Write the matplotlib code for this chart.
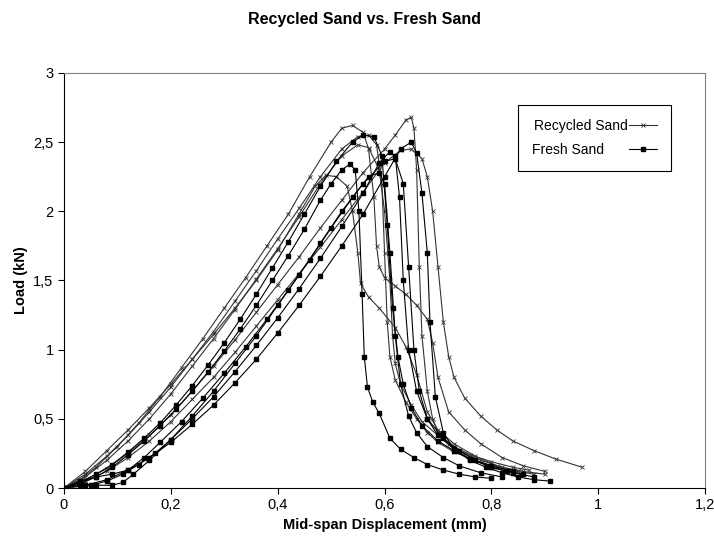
import numpy as np
import matplotlib.pyplot as plt
from matplotlib.ticker import FuncFormatter

# recycled sand specimens (displacement mm, load kN)
r1_x = [0, 0.03, 0.06, 0.1, 0.14, 0.18, 0.22, 0.26, 0.3, 0.34, 0.38, 0.42, 0.46, 0.5, 0.52, 0.54, 0.56, 0.57, 0.58, 0.585, 0.59, 0.6, 0.62, 0.64, 0.66, 0.68, 0.69, 0.7, 0.72, 0.75, 0.78, 0.82, 0.86, 0.9]
r1_y = [0, 0.06, 0.15, 0.3, 0.47, 0.66, 0.87, 1.08, 1.3, 1.52, 1.75, 1.98, 2.25, 2.5, 2.6, 2.62, 2.57, 2.45, 2.1, 1.75, 1.6, 1.52, 1.46, 1.4, 1.32, 1.22, 1.05, 0.8, 0.55, 0.42, 0.32, 0.22, 0.16, 0.12]
r2_x = [0, 0.04, 0.08, 0.12, 0.16, 0.2, 0.24, 0.28, 0.32, 0.36, 0.4, 0.44, 0.48, 0.52, 0.55, 0.57, 0.585, 0.595, 0.6, 0.605, 0.61, 0.62, 0.64, 0.66, 0.68, 0.7, 0.73, 0.77, 0.81, 0.85, 0.88]
r2_y = [0, 0.1, 0.23, 0.38, 0.55, 0.73, 0.93, 1.13, 1.35, 1.57, 1.8, 2.02, 2.25, 2.45, 2.54, 2.55, 2.48, 2.2, 1.7, 1.2, 0.95, 0.78, 0.62, 0.5, 0.4, 0.33, 0.26, 0.2, 0.15, 0.12, 0.1]
r3_x = [0, 0.04, 0.08, 0.12, 0.16, 0.2, 0.24, 0.28, 0.32, 0.36, 0.4, 0.44, 0.48, 0.52, 0.56, 0.6, 0.62, 0.64, 0.65, 0.655, 0.66, 0.665, 0.67, 0.68, 0.69, 0.7, 0.72, 0.75, 0.78, 0.82, 0.86, 0.9]
r3_y = [0, 0.06, 0.14, 0.25, 0.38, 0.53, 0.7, 0.88, 1.07, 1.27, 1.47, 1.67, 1.88, 2.08, 2.28, 2.45, 2.55, 2.66, 2.68, 2.6, 2.3, 1.6, 1.1, 0.7, 0.5, 0.4, 0.32, 0.25, 0.2, 0.15, 0.12, 0.1]
r4_x = [0, 0.04, 0.08, 0.12, 0.16, 0.2, 0.24, 0.28, 0.32, 0.36, 0.4, 0.44, 0.48, 0.52, 0.56, 0.6, 0.63, 0.65, 0.67, 0.68, 0.69, 0.7, 0.71, 0.72, 0.73, 0.75, 0.78, 0.81, 0.84, 0.88, 0.92, 0.97]
r4_y = [0, 0.05, 0.12, 0.22, 0.34, 0.48, 0.64, 0.8, 0.98, 1.17, 1.36, 1.55, 1.74, 1.94, 2.14, 2.35, 2.44, 2.45, 2.38, 2.25, 2.0, 1.6, 1.2, 0.95, 0.8, 0.65, 0.52, 0.42, 0.34, 0.27, 0.21, 0.15]
r5_x = [0, 0.04, 0.08, 0.12, 0.16, 0.2, 0.24, 0.28, 0.32, 0.36, 0.4, 0.44, 0.47, 0.49, 0.51, 0.53, 0.54, 0.55, 0.555, 0.57, 0.59, 0.62, 0.64, 0.66, 0.68, 0.7, 0.73, 0.77, 0.81, 0.85]
r5_y = [0, 0.12, 0.27, 0.42, 0.58, 0.75, 0.93, 1.11, 1.3, 1.5, 1.72, 1.98, 2.18, 2.26, 2.25, 2.18, 2.0, 1.7, 1.48, 1.38, 1.3, 1.16, 1.02, 0.82, 0.55, 0.42, 0.32, 0.23, 0.16, 0.12]
r6_x = [0, 0.04, 0.08, 0.12, 0.16, 0.2, 0.24, 0.28, 0.32, 0.36, 0.4, 0.44, 0.48, 0.52, 0.55, 0.57, 0.59, 0.6, 0.61, 0.615, 0.62, 0.63, 0.65, 0.67, 0.7, 0.73, 0.76, 0.8, 0.84, 0.87]
r6_y = [0, 0.08, 0.2, 0.34, 0.5, 0.68, 0.88, 1.08, 1.29, 1.51, 1.73, 1.96, 2.2, 2.4, 2.48, 2.46, 2.3, 2.0, 1.5, 1.1, 0.9, 0.75, 0.6, 0.48, 0.38, 0.3, 0.24, 0.19, 0.15, 0.13]

# fresh sand specimens
f1_x = [0, 0.03, 0.06, 0.09, 0.12, 0.15, 0.18, 0.21, 0.24, 0.27, 0.3, 0.33, 0.36, 0.39, 0.42, 0.45, 0.48, 0.51, 0.54, 0.56, 0.58, 0.595, 0.605, 0.615, 0.625, 0.635, 0.65, 0.67, 0.7, 0.73, 0.76, 0.8, 0.84]
f1_y = [0, 0.04, 0.1, 0.17, 0.26, 0.36, 0.47, 0.6, 0.74, 0.89, 1.05, 1.22, 1.4, 1.59, 1.78, 1.98, 2.18, 2.36, 2.5, 2.55, 2.54, 2.4, 1.9, 1.3, 0.95, 0.75, 0.58, 0.45, 0.34, 0.27, 0.21, 0.16, 0.12]
f2_x = [0, 0.04, 0.08, 0.12, 0.16, 0.2, 0.24, 0.28, 0.32, 0.36, 0.4, 0.44, 0.48, 0.52, 0.56, 0.6, 0.63, 0.65, 0.66, 0.67, 0.68, 0.685, 0.695, 0.71, 0.73, 0.76, 0.79, 0.82, 0.85, 0.88, 0.91]
f2_y = [0, 0.02, 0.06, 0.13, 0.22, 0.33, 0.46, 0.6, 0.76, 0.93, 1.12, 1.32, 1.53, 1.75, 1.98, 2.25, 2.45, 2.5, 2.42, 2.13, 1.7, 1.2, 0.66, 0.4, 0.28, 0.2, 0.15, 0.11, 0.08, 0.06, 0.05]
f3_x = [0, 0.03, 0.06, 0.09, 0.12, 0.15, 0.18, 0.21, 0.24, 0.27, 0.3, 0.33, 0.36, 0.39, 0.42, 0.45, 0.48, 0.5, 0.52, 0.535, 0.545, 0.552, 0.558, 0.562, 0.568, 0.578, 0.59, 0.61, 0.63, 0.655, 0.68, 0.71, 0.74, 0.77, 0.8]
f3_y = [0, 0.03, 0.08, 0.15, 0.24, 0.34, 0.45, 0.57, 0.7, 0.84, 0.99, 1.15, 1.32, 1.5, 1.68, 1.87, 2.08, 2.2, 2.3, 2.34, 2.3, 2.0, 1.4, 0.95, 0.73, 0.62, 0.54, 0.36, 0.28, 0.22, 0.17, 0.13, 0.1, 0.08, 0.07]
f4_x = [0, 0.05, 0.08, 0.11, 0.14, 0.17, 0.2, 0.24, 0.28, 0.32, 0.36, 0.4, 0.44, 0.48, 0.52, 0.56, 0.59, 0.61, 0.62, 0.628, 0.635, 0.645, 0.66, 0.68, 0.71, 0.74, 0.77, 0.8, 0.83, 0.86]
f4_y = [0, 0.02, 0.05, 0.1, 0.17, 0.25, 0.35, 0.5, 0.66, 0.84, 1.03, 1.23, 1.44, 1.66, 1.89, 2.13, 2.35, 2.43, 2.4, 2.1, 1.5, 1.0, 0.7, 0.5, 0.36, 0.27, 0.2, 0.15, 0.12, 0.1]
f5_x = [0, 0.03, 0.06, 0.09, 0.11, 0.13, 0.16, 0.2, 0.24, 0.28, 0.32, 0.36, 0.4, 0.44, 0.48, 0.52, 0.56, 0.6, 0.62, 0.635, 0.645, 0.655, 0.665, 0.68, 0.7, 0.73, 0.76, 0.8, 0.84, 0.88]
f5_y = [0, 0.02, 0.02, 0.02, 0.04, 0.1, 0.2, 0.35, 0.52, 0.7, 0.9, 1.1, 1.32, 1.54, 1.77, 2.0, 2.2, 2.36, 2.38, 2.2, 1.6, 1.0, 0.7, 0.5, 0.38, 0.28, 0.21, 0.15, 0.11, 0.08]
f6_x = [0, 0.03, 0.06, 0.09, 0.12, 0.15, 0.18, 0.22, 0.26, 0.3, 0.34, 0.38, 0.42, 0.46, 0.5, 0.54, 0.57, 0.59, 0.6, 0.61, 0.62, 0.63, 0.645, 0.66, 0.68, 0.71, 0.74, 0.78, 0.82]
f6_y = [0, 0.05, 0.08, 0.1, 0.13, 0.22, 0.33, 0.48, 0.65, 0.83, 1.02, 1.22, 1.43, 1.65, 1.88, 2.1, 2.25, 2.28, 2.2, 1.7, 1.1, 0.75, 0.52, 0.4, 0.3, 0.22, 0.16, 0.11, 0.08]

recycled = [(r1_x, r1_y), (r2_x, r2_y), (r3_x, r3_y), (r4_x, r4_y), (r5_x, r5_y), (r6_x, r6_y)]
fresh = [(f1_x, f1_y), (f2_x, f2_y), (f3_x, f3_y), (f4_x, f4_y), (f5_x, f5_y), (f6_x, f6_y)]

plt.rcParams['font.family'] = ['Liberation Sans', 'DejaVu Sans']

fig = plt.figure(figsize=(7.14, 5.58), dpi=100)
ax = fig.add_axes([0.0896, 0.1254, 0.898, 0.744])

for i, (x, y) in enumerate(recycled):
    ax.plot(x, y, color='#333333', linewidth=0.8, marker='x', markersize=2.3,
            markeredgewidth=0.6, label='Recycled Sand' if i == 0 else None)
for i, (x, y) in enumerate(fresh):
    ax.plot(x, y, color='black', linewidth=0.8, marker='s', markersize=2.5,
            label='Fresh Sand      ' if i == 0 else None)

ax.set_xlim(0, 1.2)
ax.set_ylim(0, 3)
ax.set_xticks(np.arange(0, 1.21, 0.2))
ax.set_yticks(np.arange(0, 3.01, 0.5))
fmt = FuncFormatter(lambda v, p: ('%g' % round(v, 2)).replace('.', ','))
ax.xaxis.set_major_formatter(fmt)
ax.yaxis.set_major_formatter(fmt)
ax.tick_params(labelsize=10.5, length=4, width=0.8, direction='out')

ax.spines['top'].set_color('#808080')
ax.spines['right'].set_color('#808080')

ax.set_xlabel('Mid-span Displacement (mm)', fontsize=10.5, fontweight='bold')
ax.set_ylabel('Load (kN)', fontsize=10.5, fontweight='bold')
fig.text(0.51, 0.965, 'Recycled Sand vs. Fresh Sand', ha='center', va='center',
         fontsize=11.5, fontweight='bold')

leg = ax.legend(loc='upper left', bbox_to_anchor=(0.698, 0.94), markerfirst=False,
                fancybox=False, edgecolor='black', fontsize=10, handlelength=2.0,
                handletextpad=0.1, borderpad=1.0, labelspacing=0.75, framealpha=1)
leg.get_frame().set_linewidth(0.8)

fig.savefig('out.png', dpi=100)
